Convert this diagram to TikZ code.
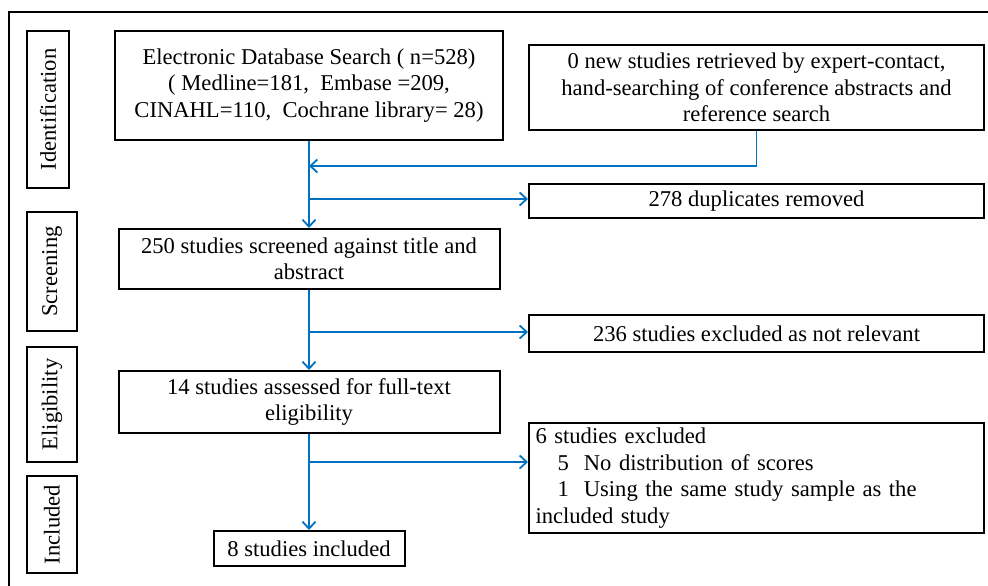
\documentclass[tikz,border=0pt]{standalone}
\usepackage{fontspec}
\setmainfont{Liberation Serif}
\usetikzlibrary{arrows.meta}
\definecolor{flowblue}{RGB}{0,112,192}
\begin{document}
\begin{tikzpicture}[x=1pt,y=-1pt,
  box/.style={draw=black,line width=2pt,inner sep=2pt,align=center,
    font=\fontsize{22.6}{26.5}\selectfont},
  side/.style={draw=black,line width=2pt,inner sep=0pt,rotate=90,
    font=\fontsize{22.6}{26.5}\selectfont},
  flow/.style={draw=flowblue,line width=1.8pt,
    -{Straight Barb[length=7pt,width=13pt,line width=1.8pt]}},
  link/.style={draw=flowblue,line width=1.8pt}]
\useasboundingbox (0,0) rectangle (988,586);
\draw[line width=2pt] (9,586) -- (9,12) -- (988,12);
% side labels
\node[side,minimum width=157,minimum height=42] (lid) at (48,109.5) {Identification};
\node[side,minimum width=119,minimum height=50] (lsc) at (52,271.5) {Screening};
\node[side,minimum width=115,minimum height=50] (lel) at (52,404.5) {Eligibility};
\node[side,minimum width=97,minimum height=50] (lin) at (52,524.5) {Included};
% main boxes
\node[box,minimum width=388,minimum height=109] (elec) at (309,85.5)
  {Electronic Database Search ( n=528)\\( Medline=181,\ \ Embase =209,\\CINAHL=110,\ \ Cochrane library= 28)};
\node[box,minimum width=455,minimum height=85] (zero) at (756.5,87.5)
  {0 new studies retrieved by expert-contact,\\hand-searching of conference abstracts and\\reference search};
\node[box,minimum width=455,minimum height=34] (dup) at (756.5,201)
  {278 duplicates removed};
\node[box,minimum width=381,minimum height=60] (scr) at (309,259)
  {250 studies screened against title and\\abstract};
\node[box,minimum width=455,minimum height=37] (ex1) at (756.5,333.5)
  {236 studies excluded as not relevant};
\node[box,minimum width=381,minimum height=62] (eli) at (309,402)
  {14 studies assessed for full-text\\eligibility};
\node[box,minimum width=455,minimum height=110,align=left,text width=442,inner sep=0pt] (ex2) at (756.5,478)
  {6 studies excluded\\\hspace*{22pt}5\ \ No distribution of scores\\\hspace*{22pt}1\ \ Using the same study sample as the\\included study};
\node[box,minimum width=191,minimum height=35] (inc) at (309,548.5)
  {8 studies included};
% connectors
\coordinate (j1) at (309,166);
\coordinate (b1) at (309,199);
\coordinate (b2) at (309,332);
\coordinate (b3) at (309,462);
\draw[flow] (elec.south) -- (scr.north);
\draw[flow] (zero.south) |- (j1);
\draw[flow] (b1) -- (b1 -| dup.west);
\draw[flow] (scr.south) -- (eli.north);
\draw[flow] (b2) -- (b2 -| ex1.west);
\draw[flow] (eli.south) -- (inc.north);
\draw[flow] (b3) -- (b3 -| ex2.west);
\end{tikzpicture}
\end{document}
